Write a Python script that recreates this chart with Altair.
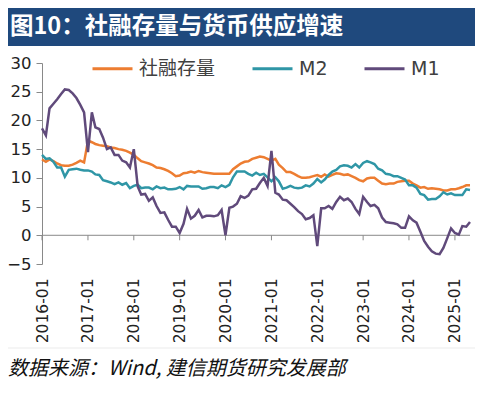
import altair as alt
import pandas as pd

# ---- data (year-on-year growth, %) ----
start_month = "2016-01-01"
n_months = 113  # 2016-01 .. 2025-05

shrz = [
    13.2, 12.8, 13.2, 12.9, 12.5, 12.2, 12.1, 12.1, 12.3, 12.6, 13.0, 12.7,
    16.5, 16.2, 15.9, 15.7, 15.6, 15.5, 15.3, 15.2, 15.0, 14.9, 14.7, 14.4,
    14.0, 13.4, 12.9, 12.7, 12.5, 12.2, 11.8, 11.7, 11.5, 11.2, 10.8, 10.3,
    10.4, 10.8, 10.9, 11.1, 10.9, 11.2, 11.0, 10.9, 10.8, 10.7, 10.7, 10.7,
    10.7, 10.7, 11.5, 12.0, 12.5, 12.8, 12.9, 13.3, 13.5, 13.7, 13.6, 13.3,
    13.0, 13.3, 12.3, 11.7, 11.0, 11.0, 10.7, 10.3, 10.0, 10.0, 10.1, 10.3,
    10.5, 10.2, 10.6, 10.2, 10.5, 10.8, 10.7, 10.5, 10.6, 10.3, 10.0, 9.6,
    9.4, 9.9, 10.0, 10.0, 9.5, 9.0, 8.9, 9.0, 9.0, 9.3, 9.4, 9.5,
    9.5, 9.0, 8.7, 8.3, 8.4, 8.1, 8.2, 8.1, 8.0, 7.8, 7.8, 8.0,
    8.0, 8.2, 8.4, 8.7, 8.7,
]
m2 = [
    14.0, 13.3, 13.4, 12.8, 11.8, 11.8, 10.2, 11.4, 11.5, 11.6, 11.4, 11.3,
    11.3, 11.1, 10.6, 10.5, 9.6, 9.4, 9.2, 8.9, 9.2, 8.8, 9.1, 8.2,
    8.6, 8.8, 8.2, 8.3, 8.3, 8.0, 8.5, 8.2, 8.3, 8.0, 8.0, 8.1,
    8.4, 8.0, 8.6, 8.5, 8.5, 8.5, 8.1, 8.2, 8.4, 8.4, 8.2, 8.7,
    8.4, 8.8, 10.1, 11.1, 11.1, 11.1, 10.7, 10.4, 10.9, 10.5, 10.7, 10.1,
    9.4, 10.1, 9.4, 8.1, 8.3, 8.6, 8.3, 8.2, 8.3, 8.7, 8.5, 9.0,
    9.8, 9.2, 9.7, 10.5, 11.1, 11.4, 12.0, 12.2, 12.1, 11.8, 12.4, 11.8,
    12.6, 12.9, 12.7, 12.4, 11.6, 11.3, 10.7, 10.6, 10.3, 10.3, 10.0, 9.7,
    8.7, 8.7, 8.3, 7.2, 7.0, 6.2, 6.3, 6.3, 6.8, 7.5, 7.1, 7.3,
    7.0, 7.0, 7.0, 8.0, 7.9,
]
m1 = [
    18.6, 17.4, 22.1, 22.9, 23.7, 24.6, 25.4, 25.3, 24.7, 23.9, 22.7, 21.4,
    14.5, 21.4, 18.8, 18.5, 17.0, 15.0, 15.3, 14.0, 14.0, 13.0, 12.7, 11.8,
    15.0, 8.5, 7.1, 7.2, 6.0, 6.6, 5.1, 3.9, 4.0, 2.7, 1.5, 1.5,
    0.4, 2.0, 4.6, 2.9, 3.4, 4.4, 3.1, 3.4, 3.4, 3.3, 3.5, 4.4,
    0.0, 4.8, 5.0, 5.5, 6.8, 6.5, 6.9, 8.0, 8.1, 9.1, 10.0, 8.6,
    14.7, 7.4, 7.1, 6.2, 6.1, 5.5, 4.9, 4.2, 3.7, 2.8, 3.0, 3.5,
    -1.9, 4.7, 4.7, 5.1, 4.6, 5.8, 6.7, 6.1, 6.4, 5.8, 4.6, 3.7,
    6.7, 5.8, 5.1, 5.3, 4.7, 3.1, 2.3, 2.2, 2.1, 1.9, 1.3, 1.3,
    3.3, 2.6, 2.2, 0.6, -1.0, -2.0, -2.8, -3.2, -3.3, -2.2, -0.5, 1.2,
    0.4, 0.1, 1.6, 1.5, 2.3,
]
series_names = ["社融存量", "M2", "M1"]
series_colors = ["#ED7D31", "#2F96A6", "#604A7B"]
tick_years = list(range(2016, 2026))
y_ticks = [-5, 0, 5, 10, 15, 20, 25, 30]

title_text = "图10：社融存量与货币供应增速"
source_text = "数据来源：Wind, 建信期货研究发展部"

dates = pd.date_range(start_month, periods=n_months, freq="MS")
frames = []
for name, vals in zip(series_names, [shrz, m2, m1]):
    frames.append(pd.DataFrame({"date": dates, "series": name, "value": vals}))
df = pd.concat(frames, ignore_index=True)
df["order"] = df["series"].map({n: i for i, n in enumerate(series_names)})

ticks_df = pd.DataFrame({"date": [pd.Timestamp(year=y, month=1, day=1) for y in tick_years]})

x_scale = alt.Scale(
    domain=[alt.DateTime(year=2016, month=1, date=1), alt.DateTime(year=2025, month=5, date=1)],
    nice=False,
)
y_scale = alt.Scale(domain=[-5, 30], nice=False, zero=False)

AXIS_FONT = "DejaVu Sans"
CJK = "Noto Sans CJK SC"

x_axis = alt.Axis(
    values=[alt.DateTime(year=y, month=1, date=1) for y in tick_years],
    format="%Y-%m",
    labelAngle=270,
    labelFont=AXIS_FONT,
    labelFontSize=15.5,
    labelColor="#222222",
    labelPadding=14,
    ticks=False,
    domain=False,
    grid=False,
    title=None,
    labelOverlap=False,
    labelFlush=False,
)
y_axis = alt.Axis(
    values=y_ticks,
    labelFont=AXIS_FONT,
    labelFontSize=16.5,
    labelColor="#222222",
    labelPadding=5,
    labelOverlap=False,
    labelFlush=False,
    tickSize=6,
    tickColor="#898989",
    domainColor="#898989",
    grid=False,
    title=None,
)

lines = alt.Chart(df).mark_line(strokeWidth=2.5, clip=False).encode(
    x=alt.X("date:T", scale=x_scale, axis=x_axis),
    y=alt.Y("value:Q", scale=y_scale, axis=y_axis),
    color=alt.Color(
        "series:N",
        scale=alt.Scale(domain=series_names, range=series_colors),
        legend=alt.Legend(
            title=None,
            orient="none",
            legendX=49,
            legendY=-16,
            direction="horizontal",
            symbolType="stroke",
            symbolSize=1600,
            symbolStrokeWidth=3,
            labelFont=f"{AXIS_FONT}, {CJK}",
            labelFontSize=19,
            labelColor="#404040",
            labelOffset=5,
            columnPadding=30,
            padding=0,
        ),
    ),
    order=alt.Order("order:Q"),
)

zero_rule = alt.Chart(alt.Data(values=[{}])).mark_rule(color="#898989", strokeWidth=1).encode(
    y=alt.Y(datum=0, scale=y_scale, axis=y_axis)
)

tick_rules = alt.Chart(ticks_df).mark_rule(color="#898989", strokeWidth=1).encode(
    x=alt.X("date:T", scale=x_scale, axis=x_axis),
    y=alt.Y(datum=0, scale=y_scale, axis=y_axis),
    y2=alt.Y2(datum=-0.87),
)

title_bar = alt.Chart(alt.Data(values=[{}])).mark_rect(color="#1F497D").encode(
    x=alt.value(-34), x2=alt.value(435), y=alt.value(-55), y2=alt.value(-17)
)
title_mark = alt.Chart(alt.Data(values=[{}])).mark_text(
    text=title_text, align="left", baseline="middle", font=CJK,
    fontSize=23.5, fontWeight="bold", color="white",
).encode(x=alt.value(-32), y=alt.value(-36))

sep_rule = alt.Chart(alt.Data(values=[{}])).mark_rule(color="#EBEBEB", strokeWidth=1).encode(
    x=alt.value(-34), x2=alt.value(435), y=alt.value(285)
)
source_mark = alt.Chart(alt.Data(values=[{}])).mark_text(
    text=source_text, align="left", baseline="middle", font=CJK,
    fontSize=20, fontStyle="italic", color="#111111",
).encode(x=alt.value(-34), y=alt.value(306))

chart = alt.layer(
    title_bar, title_mark, sep_rule, source_mark, zero_rule, tick_rules, lines
).properties(
    width=428,
    height=201,
    padding={"left": 34, "top": 55, "right": 5, "bottom": 118},
    autosize=alt.AutoSizeParams(type="none"),
).configure_view(stroke=None)

chart.save("out.html", embed_options={"renderer": "svg", "actions": False})
